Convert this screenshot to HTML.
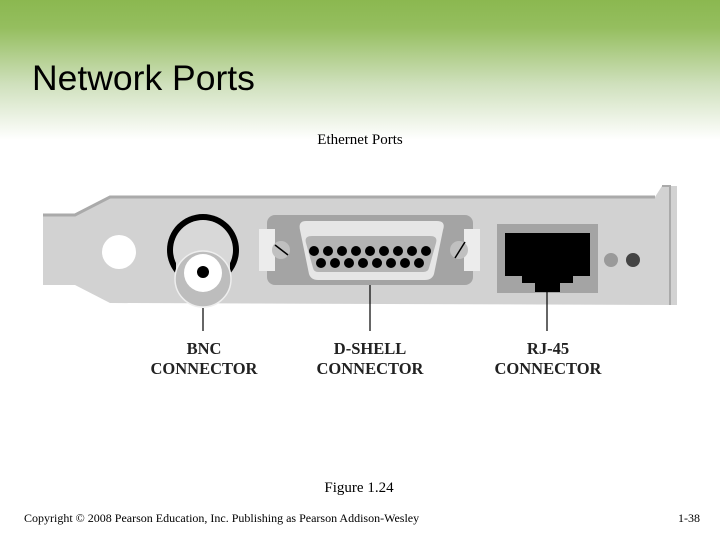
<html><body style="margin:0;width:720px;height:540px;overflow:hidden;background:#fff">
<svg width="720" height="540" xmlns="http://www.w3.org/2000/svg">
<defs><linearGradient id="g" x1="0" y1="0" x2="0" y2="1">
<stop offset="0" stop-color="#8bb850"/><stop offset="0.2" stop-color="#95be5f"/><stop offset="0.6" stop-color="#cfe0bc"/><stop offset="1" stop-color="#ffffff"/></linearGradient></defs>
<rect x="0" y="0" width="720" height="140" fill="url(#g)"/>
<text x="32" y="90" font-family="Liberation Sans, sans-serif" font-size="35.5" fill="#000">Network Ports</text>
<text x="360" y="144" text-anchor="middle" font-family="Liberation Serif, serif" font-size="15">Ethernet Ports</text>
<!-- bracket -->
<path d="M43,215 L75,215 L110,197 L655,197 L662,186 L677,186 L677,305 L110,303 L75,285 L43,285 Z" fill="#d2d2d2"/>
<path d="M43,215 L75,215 L110,197 L655,197" fill="none" stroke="#aaa" stroke-width="3"/>
<path d="M662,186 L670,186 L670,305" fill="none" stroke="#aaa" stroke-width="2"/>
<circle cx="119" cy="252" r="17" fill="#fff"/>
<!-- BNC -->
<circle cx="203" cy="250" r="36" fill="#000"/>
<circle cx="203" cy="250" r="30" fill="#d8d8d8"/>
<rect x="176" y="250" width="54" height="28" fill="#d8d8d8"/>
<circle cx="203" cy="279" r="28" fill="#bdbdbd" stroke="#eee" stroke-width="1.5"/>
<circle cx="203" cy="273" r="19" fill="#fff"/>
<circle cx="203" cy="272" r="6" fill="#000"/>
<!-- D-shell -->
<rect x="267" y="215" width="206" height="70" rx="8" fill="#a4a4a4"/>
<rect x="259" y="229" width="16" height="42" fill="#ececec"/>
<rect x="464" y="229" width="16" height="42" fill="#ececec"/>
<circle cx="281" cy="250" r="9" fill="#c0c0c0"/><line x1="275" y1="245" x2="288" y2="255" stroke="#000" stroke-width="1.5"/>
<circle cx="459" cy="250" r="9" fill="#c0c0c0"/><line x1="455" y1="258" x2="465" y2="242" stroke="#000" stroke-width="1.5"/>
<path d="M306,221 L437,221 Q446,221 443,230 L434,274 Q432,280 425,280 L318,280 Q311,280 309,274 L300,230 Q298,221 306,221Z" fill="#e6e6e6"/>
<path d="M312,236 L430,236 Q438,236 436,243 L429,268 Q428,272 423,272 L318,272 Q314,272 313,268 L306,243 Q304,236 312,236Z" fill="#b4b4b4"/>
<g fill="#000">
<circle cx="314" cy="251" r="5"/><circle cx="328" cy="251" r="5"/><circle cx="342" cy="251" r="5"/><circle cx="356" cy="251" r="5"/><circle cx="370" cy="251" r="5"/><circle cx="384" cy="251" r="5"/><circle cx="398" cy="251" r="5"/><circle cx="412" cy="251" r="5"/><circle cx="426" cy="251" r="5"/>
<circle cx="321" cy="263" r="5"/><circle cx="335" cy="263" r="5"/><circle cx="349" cy="263" r="5"/><circle cx="363" cy="263" r="5"/><circle cx="377" cy="263" r="5"/><circle cx="391" cy="263" r="5"/><circle cx="405" cy="263" r="5"/><circle cx="419" cy="263" r="5"/>
</g>
<!-- RJ45 -->
<rect x="497" y="224" width="101" height="69" fill="#a4a4a4"/>
<path d="M505,233 L590,233 L590,276 L573,276 L573,283 L560,283 L560,292 L535,292 L535,283 L522,283 L522,276 L505,276 Z" fill="#000"/>
<circle cx="611" cy="260" r="7" fill="#9a9a9a"/>
<circle cx="633" cy="260" r="7" fill="#444"/>
<!-- leaders -->
<g stroke="#000" stroke-width="1.2">
<line x1="203" y1="308" x2="203" y2="331"/><line x1="370" y1="285" x2="370" y2="331"/><line x1="547" y1="292" x2="547" y2="331"/>
</g>
<g font-family="Liberation Serif, serif" font-weight="bold" font-size="16.5" text-anchor="middle" fill="#222">
<text x="204" y="354">BNC</text><text x="204" y="374">CONNECTOR</text>
<text x="370" y="354">D-SHELL</text><text x="370" y="374">CONNECTOR</text>
<text x="548" y="354">RJ-45</text><text x="548" y="374">CONNECTOR</text>
</g>
<text x="359" y="492" text-anchor="middle" font-family="Liberation Serif, serif" font-size="15">Figure 1.24</text>
<text x="24" y="522" font-family="Liberation Serif, serif" font-size="12">Copyright © 2008 Pearson Education, Inc. Publishing as Pearson Addison-Wesley</text>
<text x="700" y="522" text-anchor="end" font-family="Liberation Serif, serif" font-size="12">1-38</text>
</svg>
</body></html>
